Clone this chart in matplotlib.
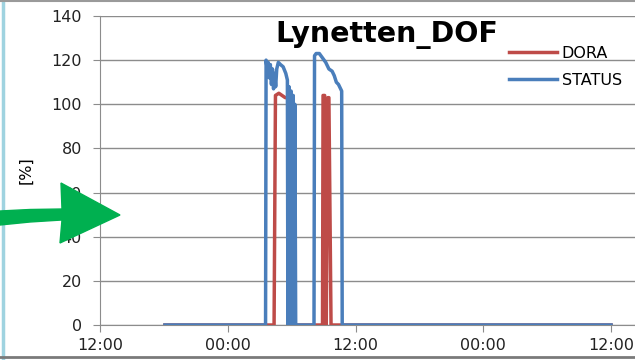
#!/usr/bin/env python3

import matplotlib
matplotlib.use("Agg")
import matplotlib.pyplot as plt
import matplotlib.dates as dates
from matplotlib.patches import Polygon
from matplotlib.lines import Line2D
import pandas as pd

# hours after the first 12:00 tick
start = pd.Timestamp("2013-06-10 12:00")

status_hours = [6.1, 15.55, 15.6, 15.7, 15.8, 15.9, 16.0, 16.1, 16.2, 16.3, 16.4, 16.5, 16.6, 16.75,
                16.95, 17.2, 17.45, 17.6, 17.65, 17.75, 17.85, 17.95, 18.05, 18.15, 18.25, 18.3,
                18.38, 20.1, 20.15, 20.3, 20.6, 20.9, 21.2, 21.5, 21.8, 22.0, 22.2, 22.4, 22.6,
                22.7, 22.75, 48.0]
status_vals = [0, 0, 120, 116, 119, 112, 118, 109, 116, 107, 114, 108, 116, 119,
               118, 117, 114, 111, 0, 108, 0, 106, 0, 104, 0, 100,
               0, 0, 122, 123, 123, 121, 119, 116, 115, 113, 110, 109, 107,
               106, 0, 0]

dora_hours = [6.1, 16.35, 16.48, 16.8, 17.1, 17.4, 17.68, 17.73,
              20.9, 20.95, 21.1, 21.25, 21.4, 21.5, 21.7, 48.0]
dora_vals = [0, 0, 104, 105, 104, 103, 103, 0,
             0, 104, 104, 0, 103, 103, 0, 0]

y_ticks = [0, 20, 40, 60, 80, 100, 120, 140]

W, H = 635, 360
fig = plt.figure(figsize=(W / 100, H / 100), dpi=100)
plt.rcParams["font.family"] = "DejaVu Sans"

ax = fig.add_axes([100 / W, 35 / H, (W - 100) / W, 309 / H])

t_status = start + pd.to_timedelta(status_hours, unit="h")
t_dora = start + pd.to_timedelta(dora_hours, unit="h")

ax.plot(t_dora, dora_vals, color="#BE4B48", lw=2.5, label="DORA", zorder=3)
ax.plot(t_status, status_vals, color="#4A7EBB", lw=2.5, label="STATUS", zorder=4)

ax.set_ylim(0, 140)
ax.set_yticks(y_ticks)
ax.set_xlim(start, start + pd.Timedelta(hours=50.25))
ax.xaxis.set_major_locator(dates.HourLocator(byhour=[0, 12]))
ax.xaxis.set_major_formatter(dates.DateFormatter("%H:%M"))

ax.grid(axis="y", color="#8c8c8c", lw=1)
ax.set_axisbelow(True)
for s in ["top", "right"]:
    ax.spines[s].set_visible(False)
for s in ["left", "bottom"]:
    ax.spines[s].set_color("#8c8c8c")
ax.tick_params(axis="both", colors="#8c8c8c", labelcolor="#222222", labelsize=11.5,
               length=5, direction="out")
ax.tick_params(axis="y", pad=8)
ax.tick_params(axis="x", pad=4)

ax.set_ylabel("[%]", fontsize=11.5)
ax.yaxis.set_label_coords(-0.125, 0.5)

fig.text(387 / W, 1 - 35 / H, "Lynetten_DOF", fontsize=20.5, fontweight="bold",
         ha="center", va="center")

ax.legend(loc="upper left", bbox_to_anchor=(501 / W, 1 - 38 / H), bbox_transform=fig.transFigure,
          frameon=False, fontsize=11.5, handlelength=3.0, handletextpad=0.3,
          labelspacing=0.75, borderpad=0)

# green arrow pasted over the chart
arrow = [(0, 211), (30, 209.5), (62, 209), (61, 183), (120, 215), (60, 243), (62, 220),
         (30, 222), (0, 225)]
fig.patches.append(Polygon([(x / W, 1 - y / H) for x, y in arrow], closed=True,
                           transform=fig.transFigure, color="#00B050", zorder=10))

# screenshot border
fig.lines.append(Line2D([2.5 / W, 2.5 / W], [0, 1], transform=fig.transFigure,
                        color="#9fd3e0", lw=2.5))
fig.lines.append(Line2D([0, 1], [1 - 1 / H, 1 - 1 / H], transform=fig.transFigure,
                        color="#9a9a9a", lw=1.5))
fig.lines.append(Line2D([0, 1], [1 - 357 / H, 1 - 357 / H], transform=fig.transFigure,
                        color="#7a7a7a", lw=2))

fig.savefig("out.png", dpi=100)
